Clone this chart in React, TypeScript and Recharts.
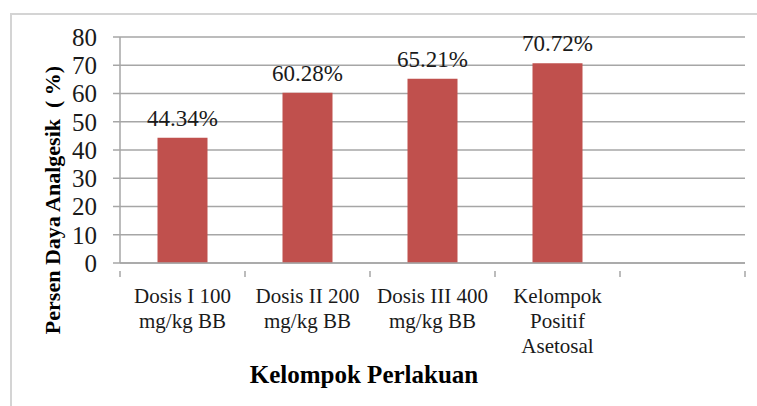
import React from 'react';
import { BarChart, Bar, XAxis, YAxis, CartesianGrid, LabelList, Label } from 'recharts';

// data
const groups = [
  ['Dosis I 100', 'mg/kg BB'],
  ['Dosis II 200', 'mg/kg BB'],
  ['Dosis III 400', 'mg/kg BB'],
  ['Kelompok', 'Positif', 'Asetosal'],
  [''],
];
const percents = [44.34, 60.28, 65.21, 70.72, null];
const yTicks = [0, 10, 20, 30, 40, 50, 60, 70, 80];

const rows = groups.map((lines, i) => ({ name: lines.join(' '), lines, value: percents[i] }));

const FONT = "'Liberation Serif', Tinos, 'Times New Roman', 'DejaVu Serif', serif";
const AXIS = '#a6a6a6';

const CategoryTick = (props: any) => {
  const { x, y, payload, index, visibleTicksCount } = props;
  const half = payload?.offset || 62.5;
  const lines: string[] = rows[index]?.lines || [];
  return (
    <g>
      <line x1={x - half} y1={y} x2={x - half} y2={y + 6} stroke={AXIS} strokeWidth={1.5} />
      {index === visibleTicksCount - 1 && (
        <line x1={x + half} y1={y} x2={x + half} y2={y + 6} stroke={AXIS} strokeWidth={1.5} />
      )}
      <text textAnchor="middle" style={{ fontFamily: FONT }} fontSize={21} fill="#1a1a1a">
        {lines.map((t, k) => (
          <tspan key={k} x={x} y={y + 32 + k * 25}>
            {t}
          </tspan>
        ))}
      </text>
    </g>
  );
};

export default function App() {
  return (
    <div style={{ position: 'fixed', left: 0, top: 0, width: 757, height: 406, background: '#fff', overflow: 'hidden', fontFamily: FONT }}>
      <div
        style={{
          position: 'absolute',
          left: 10,
          top: 13,
          width: 800,
          height: 420,
          border: '2px solid #d4d4d4',
          boxSizing: 'border-box',
        }}
      />
      <div style={{ position: 'absolute', left: 0, top: 0 }}>
        <BarChart
          width={757}
          height={406}
          data={rows}
          margin={{ top: 37, right: 12, left: 0, bottom: 0 }}
          barCategoryGap="30%"
          style={{ fontFamily: FONT }}
        >
          <CartesianGrid vertical={false} stroke={AXIS} strokeWidth={1.5} />
          <XAxis
            dataKey="name"
            height={143}
            interval={0}
            stroke={AXIS}
            strokeWidth={1.5}
            tickLine={false}
            tick={<CategoryTick />}
          >
            <Label
              value="Kelompok Perlakuan"
              content={() => (
                <text x={364} y={383} textAnchor="middle" style={{ fontFamily: FONT }} fontWeight="bold" fontSize={25} fill="#000">
                  Kelompok Perlakuan
                </text>
              )}
            />
          </XAxis>
          <YAxis
            width={120}
            domain={[0, 80]}
            ticks={yTicks}
            interval={0}
            stroke={AXIS}
            strokeWidth={1.5}
            tickSize={7}
            tickMargin={16}
            tick={{ fontSize: 25, fill: '#1a1a1a', style: { fontFamily: FONT } }}
          >
            <Label
              value="Persen Daya Analgesik (%)"
              content={() => (
                <text
                  x={52}
                  y={200}
                  transform="rotate(-90 52 200)"
                  textAnchor="middle"
                  dominantBaseline="central"
                  style={{ fontFamily: FONT }}
                  fontWeight="bold"
                  fontSize={22}
                  fill="#000"
                >
                  {'Persen Daya Analgesik\u00a0 (\u00a0%)'}
                </text>
              )}
            />
          </YAxis>
          <Bar dataKey="value" fill="#c0504d" isAnimationActive={false}>
            <LabelList
              dataKey="value"
              position="top"
              offset={12}
              formatter={(v: any) => (v == null ? '' : `${Number(v).toFixed(2)}%`)}
              style={{ fontFamily: FONT, fontSize: 23, fill: '#1a1a1a' }}
            />
          </Bar>
        </BarChart>
      </div>
    </div>
  );
}
